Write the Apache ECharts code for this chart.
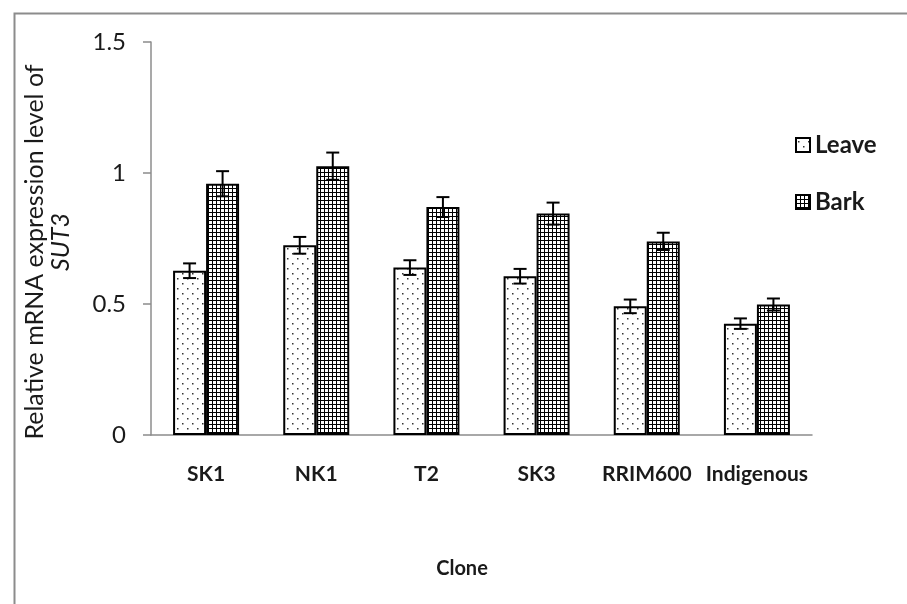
<!DOCTYPE html>
<html>
<head>
<meta charset="utf-8">
<script src="https://cdn.jsdelivr.net/npm/echarts@6/dist/echarts.min.js"></script>
<style>
html,body{margin:0;padding:0;background:#fff;}
#chart{width:907px;height:604px;}
</style>
</head>
<body>
<div id="chart"></div>
<script>
var categories = ['SK1', 'NK1', 'T2', 'SK3', 'RRIM600', 'Indigenous'];
var leaveValues = [0.627, 0.724, 0.639, 0.606, 0.491, 0.425];
var leaveErrors = [0.028, 0.032, 0.028, 0.028, 0.026, 0.020];
var barkValues = [0.959, 1.026, 0.870, 0.845, 0.739, 0.498];
var barkErrors = [0.048, 0.052, 0.038, 0.042, 0.033, 0.023];
var yTicks = [0, 0.5, 1, 1.5];

var FONT = 'Lato';

function dotPattern() {
  var c = document.createElement('canvas');
  c.width = 10; c.height = 10;
  var g = c.getContext('2d');
  g.fillStyle = '#fff'; g.fillRect(0, 0, 10, 10);
  g.fillStyle = '#333';
  g.fillRect(2, 3, 1.5, 1.5);
  g.fillRect(7, 8, 1.5, 1.5);
  return c;
}
function gridPattern() {
  var c = document.createElement('canvas');
  c.width = 4; c.height = 4;
  var g = c.getContext('2d');
  g.fillStyle = '#fff'; g.fillRect(0, 0, 4, 4);
  g.fillStyle = '#000';
  g.fillRect(0, 0, 4, 1);
  g.fillRect(0, 0, 1, 4);
  return c;
}

var BAR_W = 33;

function errRender(offset) {
  return function (params, api) {
    var x = api.value(0), v = api.value(1), e = api.value(2);
    var hi = api.coord([x, v + e]);
    var lo = api.coord([x, v - e]);
    var cx = hi[0] + offset;
    var w = 6.5;
    var st = { stroke: '#000', lineWidth: 2 };
    return {
      type: 'group',
      children: [
        { type: 'line', shape: { x1: cx, y1: hi[1], x2: cx, y2: lo[1] }, style: st },
        { type: 'line', shape: { x1: cx - w, y1: hi[1], x2: cx + w, y2: hi[1] }, style: st },
        { type: 'line', shape: { x1: cx - w, y1: lo[1], x2: cx + w, y2: lo[1] }, style: st }
      ]
    };
  };
}

function errData(vals, errs) {
  return vals.map(function (v, i) { return [i, v, errs[i]]; });
}

var chart = echarts.init(document.getElementById('chart'), null, { renderer: 'canvas' });
var option = {
  backgroundColor: '#fff',
  animation: false,
  textStyle: { fontFamily: FONT },
  grid: { left: 151, right: 95, top: 42, bottom: 169 },
  legend: {
    orient: 'vertical',
    left: 795,
    top: 133,
    padding: 0,
    itemGap: 33,
    itemWidth: 14,
    itemHeight: 14,
    icon: 'rect',
    data: ['Leave', 'Bark'],
    textStyle: { fontFamily: FONT, fontSize: 24, lineHeight: 24, fontWeight: 'bold', color: '#1a1a1a' }
  },
  xAxis: {
    type: 'category',
    data: categories,
    axisLine: { lineStyle: { color: '#8c8c8c', width: 1.5 } },
    axisTick: { show: false },
    axisLabel: { interval: 0, margin: 29, fontFamily: FONT, fontSize: 21, fontWeight: 'bold', color: '#1a1a1a' }
  },
  yAxis: {
    type: 'value',
    min: 0, max: 1.5, interval: 0.5,
    axisLine: { show: true, lineStyle: { color: '#8c8c8c', width: 1.5 } },
    axisTick: { show: true, length: 8, lineStyle: { color: '#8c8c8c', width: 1.5 } },
    splitLine: { show: false },
    axisLabel: {
      margin: 25, fontFamily: FONT, fontSize: 24, color: '#1a1a1a',
      formatter: function (v) { return yTicks.indexOf(v) >= 0 ? String(v) : ''; }
    }
  },
  graphic: [
    { type: 'rect', left: 12, top: 11, shape: { width: 900, height: 600 }, style: { fill: 'none', stroke: '#8c8c8c', lineWidth: 2 }, silent: true },
    { type: 'text', x: 35, y: 252, rotation: Math.PI / 2,
      style: { text: 'Relative mRNA expression level of', font: '25px ' + FONT, fill: '#1a1a1a', textAlign: 'center', textVerticalAlign: 'middle' } },
    { type: 'text', x: 61, y: 242, rotation: Math.PI / 2,
      style: { text: 'SUT3', font: 'italic 25px ' + FONT, fill: '#1a1a1a', textAlign: 'center', textVerticalAlign: 'middle' } },
    { type: 'text', x: 462, y: 569,
      style: { text: 'Clone', font: 'bold 20px ' + FONT, fill: '#1a1a1a', textAlign: 'center', textVerticalAlign: 'middle' } }
  ],
  series: [
    {
      name: 'Leave', type: 'bar', data: leaveValues, barWidth: BAR_W, barGap: '0%',
      itemStyle: { color: { image: dotPattern(), repeat: 'repeat' }, borderColor: '#000', borderWidth: 2 }
    },
    {
      name: 'Bark', type: 'bar', data: barkValues, barWidth: BAR_W, barGap: '0%',
      itemStyle: { color: { image: gridPattern(), repeat: 'repeat' }, borderColor: '#000', borderWidth: 2 }
    },
    { type: 'custom', name: 'LeaveErr', renderItem: errRender(-BAR_W / 2), data: errData(leaveValues, leaveErrors), z: 10 },
    { type: 'custom', name: 'BarkErr', renderItem: errRender(BAR_W / 2), data: errData(barkValues, barkErrors), z: 10 }
  ]
};
chart.setOption(option);
</script>
</body>
</html>
